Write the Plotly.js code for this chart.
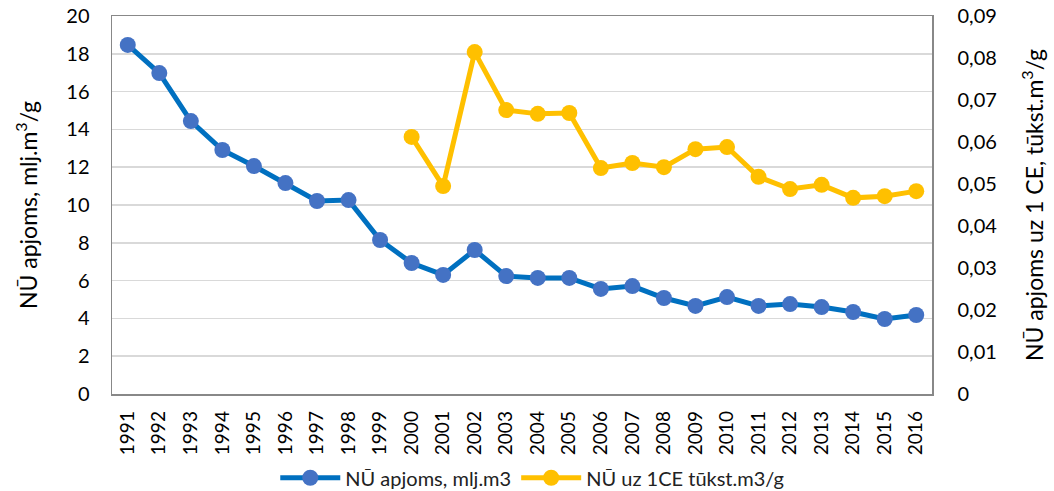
<!DOCTYPE html>
<html><head><meta charset="utf-8">
<script src="https://cdn.plot.ly/plotly-3.0.1.min.js"></script>
<style>html,body{margin:0;padding:0;background:#fff}#c{width:1054px;height:491px}</style>
</head><body><div id="c"></div>
<script>
var years = ["1991","1992","1993","1994","1995","1996","1997","1998","1999","2000","2001","2002","2003","2004","2005","2006","2007","2008","2009","2010","2011","2012","2013","2014","2015","2016"];
var volume = [18.47,16.98,14.44,12.91,12.06,11.16,10.21,10.26,8.15,6.93,6.30,7.62,6.24,6.14,6.14,5.56,5.71,5.08,4.66,5.13,4.66,4.76,4.60,4.34,3.97,4.18];
var perCE = [null,null,null,null,null,null,null,null,null,0.0612,0.0495,0.0814,0.0676,0.0667,0.0669,0.0538,0.0550,0.0540,0.0583,0.0588,0.0517,0.0488,0.0498,0.0467,0.0471,0.0483];
var rightTicks = [0,0.01,0.02,0.03,0.04,0.05,0.06,0.07,0.08,0.09];
var rightLabels = ["0","0,01","0,02","0,03","0,04","0,05","0,06","0,07","0,08","0,09"];
var seriesNames = ["NŪ apjoms, mlj.m3","NŪ uz 1CE tūkst.m3/g"];

var font = "Lato, 'Open Sans', sans-serif";
var traces = [
 {x: years, y: volume, name: seriesNames[0], type:"scatter", mode:"lines+markers",
  line:{color:"#0070C0", width:5}, marker:{color:"#4472C4", size:16}, yaxis:"y"},
 {x: years, y: perCE, name: seriesNames[1], type:"scatter", mode:"lines+markers",
  line:{color:"#FFC000", width:5}, marker:{color:"#FFC000", size:16}, yaxis:"y2"}
];
var layout = {
 width:1054, height:491,
 margin:{l:112, r:122, t:16, b:97},
 paper_bgcolor:"#fff", plot_bgcolor:"#fff",
 font:{family:font, size:20, color:"#000"},
 showlegend:true,
 legend:{orientation:"h", x:0.505, xanchor:"center", xref:"container", yref:"container", y:0.027, yanchor:"middle", font:{size:20, color:"#222"}, itemwidth:60},
 xaxis:{type:"category", range:[-0.5,25.5], tickangle:-90, tickfont:{size:19}, automargin:false, ticklabelstandoff:8,
  showline:true, linecolor:"#888", linewidth:1.5, mirror:true, showgrid:false, ticks:"", fixedrange:true},
 yaxis:{range:[0,20], dtick:2, tick0:0, tickfont:{size:20}, gridcolor:"#d9d9d9", gridwidth:1.5, automargin:false, ticklabelstandoff:17,
  showline:true, linecolor:"#888", linewidth:1.5, zeroline:false, ticks:"",
  title:{text:"NŪ apjoms, mlj.m<sup>3</sup>/g", font:{size:23}, standoff:22}},
 yaxis2:{range:[0,0.09], overlaying:"y", side:"right", tickmode:"array", tickvals:rightTicks, ticktext:rightLabels, automargin:false, ticklabelstandoff:20,
  tickfont:{size:20}, showgrid:false, zeroline:false, showline:true, linecolor:"#888", linewidth:1.5, ticks:"",
  title:{text:"NŪ apjoms uz 1 CE, tūkst.m<sup>3</sup>/g", font:{size:23}, standoff:30}}
};
Plotly.newPlot("c", traces, layout, {displayModeBar:false, staticPlot:true});
</script></body></html>
